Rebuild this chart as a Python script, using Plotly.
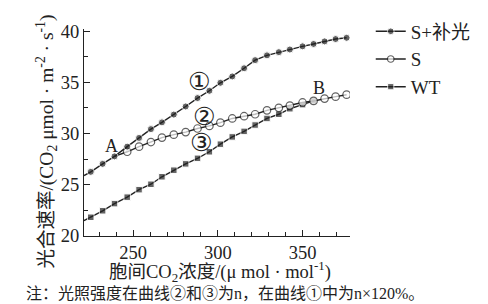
import plotly.graph_objects as go

# Data
co2 = [225, 232, 239, 246.5, 253.5, 260.5, 267, 274, 281, 288, 295, 301.5,
       308.5, 315.5, 322, 329, 336, 342.5, 350, 356.5, 363, 369.5, 376]
s_light = [26.26, 27.04, 27.77, 28.72, 29.57, 30.43, 31.09, 31.85, 32.64, 33.46,
           34.17, 34.95, 35.57, 36.37, 37.16, 37.63, 37.94, 38.2, 38.51, 38.74,
           38.99, 39.22, 39.34]
s_vals = [None, None, 27.77, 28.22, 28.72, 29.17, 29.6, 29.89, 30.14, 30.49,
          30.74, 31.06, 31.47, 31.69, 31.88, 32.26, 32.51, 32.73, 33.03, 33.18,
          33.41, 33.6, 33.79]
wt = [21.83, 22.46, 23.16, 23.79, 24.52, 25.05, 25.78, 26.42, 27.04, 27.58,
      28.22, 28.96, 29.67, 30.21, 30.83, 31.47, 31.88, 32.42, 32.82, 33.18]
# values where the lines meet the y axis (left end of x range)
x_start = 221
s_light_start = 25.9
wt_start = 21.5

names = ["S+补光", "S", "WT"]
x_ticks = [250, 300, 350]
y_ticks = [20, 25, 30, 35, 40]

ink = "#222222"
font_fam = "Liberation Serif, Noto Sans CJK SC, serif"

fig = go.Figure()

fig.add_trace(go.Scatter(
    x=[x_start] + co2[:len(wt)], y=[wt_start] + wt, name=names[2],
    mode="lines+markers", legendrank=3,
    line=dict(color=ink, width=1.4),
    marker=dict(symbol="square", size=[0] + [6.5] * len(wt), color=ink),
))
s_sizes = [0 if (v is None or i == 2) else 7.5 for i, v in enumerate(s_vals)]
fig.add_trace(go.Scatter(
    x=co2, y=s_vals, name=names[1], mode="lines+markers", legendrank=2,
    line=dict(color=ink, width=1.4),
    marker=dict(symbol="circle", size=s_sizes, color="white",
                line=dict(color=ink, width=1.2)),
))
fig.add_trace(go.Scatter(
    x=[x_start] + co2, y=[s_light_start] + s_light, name=names[0],
    mode="lines+markers", legendrank=1,
    line=dict(color=ink, width=1.4),
    marker=dict(symbol="circle", size=[0] + [7] * len(co2), color=ink),
))

labels = [("①", 289, 35.1), ("②", 292, 31.7), ("③", 290, 29.1),
          ("A", 237.3, 28.8), ("B", 359.5, 34.4)]
for txt, lx, ly in labels:
    circled = txt in "①②③"
    fig.add_annotation(x=lx, y=ly, text=txt, showarrow=False,
                       font=dict(size=25 if circled else 18,
                                 family="DejaVu Sans, Liberation Serif" if circled else font_fam,
                                 color=ink))

# axis titles
fig.add_annotation(xref="paper", yref="paper", x=0.513, y=-0.170,
                   xanchor="center", yanchor="middle", showarrow=False, borderpad=0,
                   text="胞间CO<sub>2</sub>浓度/(μ mol · mol<sup>-1</sup>)",
                   font=dict(size=18.5, family=font_fam, color=ink))
fig.add_annotation(xref="paper", yref="paper", x=-0.14, y=0.455,
                   xanchor="center", yanchor="middle", showarrow=False,
                   textangle=-90,
                   text="光合速率/(CO<sub>2</sub> μmol · m<sup>-2</sup> · s<sup>-1</sup>)",
                   font=dict(size=19.5, family=font_fam, color=ink))

fig.add_annotation(xref="paper", yref="paper", x=-0.222, y=-0.325,
                   xanchor="left", yanchor="bottom", showarrow=False, borderpad=0,
                   text="注：光照强度在曲线②和③为n，在曲线①中为n×120%。",
                   font=dict(size=16, family=font_fam, color=ink))

axis_common = dict(showline=True, linecolor=ink, linewidth=1.3, showgrid=False,
                   zeroline=False, ticks="inside", ticklen=6, tickwidth=1.2,
                   tickcolor=ink, tickfont=dict(size=18.5, family=font_fam, color=ink))

fig.update_xaxes(range=[x_start, 378], tickvals=x_ticks,
                 minor=dict(ticks="inside", ticklen=4, tickwidth=1, tickcolor=ink,
                            dtick=10, tick0=0),
                 ticklabelstandoff=0,
                 **axis_common)
fig.update_yaxes(range=[20, 40.2], tickvals=y_ticks,
                 minor=dict(ticks="inside", ticklen=4, tickwidth=1, tickcolor=ink,
                            dtick=2.5, tick0=0),
                 **axis_common)

fig.update_layout(
    width=488, height=304,
    margin=dict(l=84, r=125, t=23, b=68),
    paper_bgcolor="white", plot_bgcolor="white",
    showlegend=True,
    legend=dict(x=1.078, y=1.08, xanchor="left", yanchor="top",
                font=dict(size=19, family=font_fam, color=ink),
                itemwidth=30, tracegroupgap=0, bgcolor="rgba(0,0,0,0)"),
    font=dict(family=font_fam, color=ink),
)

fig.write_html("out.html")
